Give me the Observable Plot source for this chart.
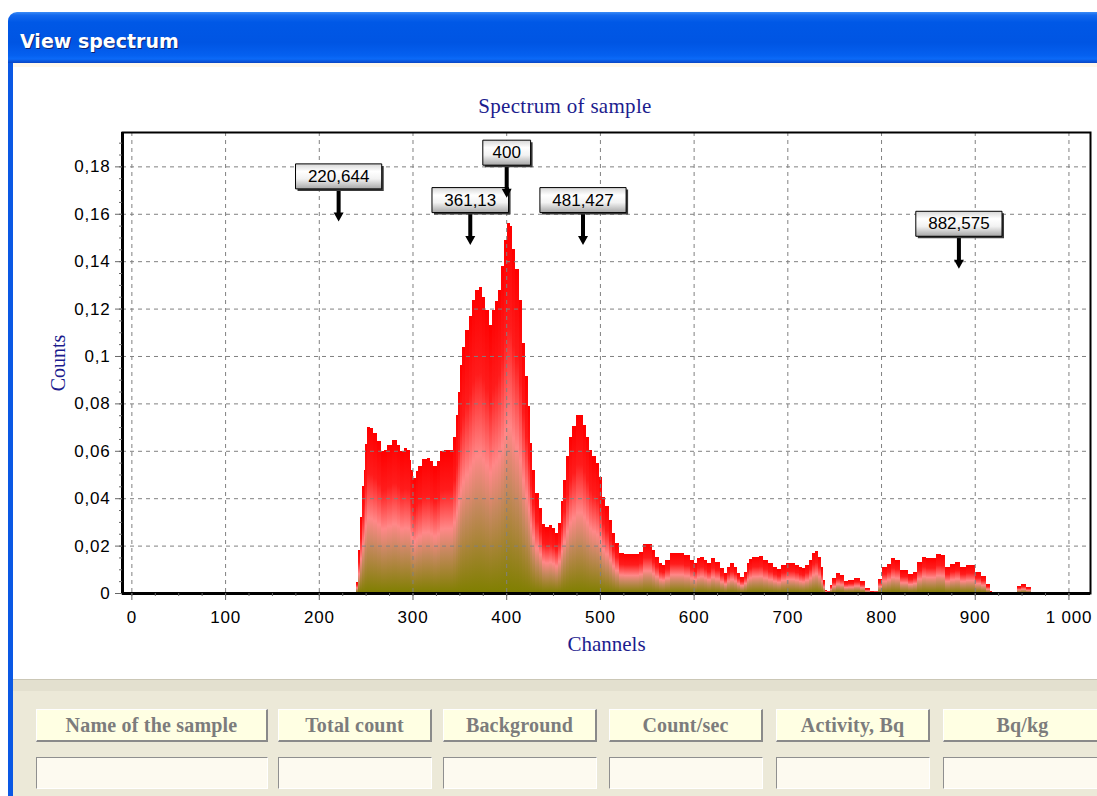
<!DOCTYPE html>
<html>
<head>
<meta charset="utf-8">
<script src="https://cdn.jsdelivr.net/npm/d3@7"></script>
<script src="https://cdn.jsdelivr.net/npm/@observablehq/plot@0.6"></script>
<style>
html, body { margin: 0; padding: 0; background: #fff; }
#win { position: relative; width: 1097px; height: 796px; overflow: hidden; background: #fff; }
#titlebar { position: absolute; left: 8px; top: 12px; width: 1100px; height: 51px; border-top-left-radius: 9px;
  background: linear-gradient(to bottom, #3c8cf6 0%, #1469ee 6%, #0058e6 20%, #0055e3 60%, #0560f0 85%, #0b6af8 92%, #0a45c4 100%); }
#titletext { position: absolute; left: 12px; top: 18px; color: #fff; font: bold 19px "DejaVu Sans", sans-serif; text-shadow: 1px 1px 0 #0b2272; }
#leftborder { position: absolute; left: 8px; top: 63px; width: 5px; height: 733px; background: #0a58e4; }
#cream { position: absolute; left: 13px; top: 63px; width: 1084px; height: 4px; background: #fff8ec; }
#charttitle { position: absolute; left: 0; width: 1130px; top: 94px; text-align: center; font: 21px "Liberation Serif", "Times New Roman", serif; color: #1c1c8e; letter-spacing: 0.3px; }
#chart { position: absolute; left: 0; top: 63px; }
#sep { position: absolute; left: 13px; top: 679px; width: 1084px; height: 11px; background: #e3e0cf; border-top: 1px solid #cbc7b6; border-bottom: 1px solid #d2cebd; }
#panel { position: absolute; left: 13px; top: 691px; width: 1084px; height: 105px; background: #ece9d8; }
.btn { position: absolute; top: 709px; height: 33px; box-sizing: border-box; background: #ffffe3;
  border-top: 1px solid #fff; border-left: 1px solid #fff; border-right: 2px solid #8a8a8a; border-bottom: 2px solid #8a8a8a;
  font: bold 20px "Liberation Serif", "Times New Roman", serif; color: #7c7c7c; text-align: center; line-height: 30px; white-space: nowrap; letter-spacing: 0.2px; }
.inp { position: absolute; top: 757px; height: 32px; box-sizing: border-box; background: #fdfaf0;
  border-top: 1px solid #8f8f8f; border-left: 1px solid #8f8f8f; border-right: 1px solid #fff; border-bottom: 1px solid #fff; }
#chart g[aria-label="ylabel"] text { letter-spacing: 2px; }
#chart g[aria-label="xlabel"] text { letter-spacing: 0.5px; }
#chart g[aria-label="y-axis tick label"] text, #chart g[aria-label="x-axis tick label"] text { letter-spacing: 0.8px; }
#chart g[aria-label="peak label"] text { letter-spacing: 0.5px; }
</style>
</head>
<body>
<svg width="0" height="0" style="position:absolute">
  <defs>
    <linearGradient id="specGrad" x1="0" y1="0" x2="0" y2="1">
      <stop offset="0" stop-color="#ff0000"/>
      <stop offset="0.28" stop-color="#ff1c1c"/>
      <stop offset="0.55" stop-color="#ff8888"/>
      <stop offset="0.72" stop-color="#c4885c"/>
      <stop offset="1" stop-color="#7f7f00"/>
    </linearGradient>
    <linearGradient id="boxGrad" x1="0" y1="0" x2="0" y2="1">
      <stop offset="0" stop-color="#d6d6d6"/>
      <stop offset="0.3" stop-color="#ffffff"/>
      <stop offset="0.6" stop-color="#f2f2f2"/>
      <stop offset="1" stop-color="#a6a6a6"/>
    </linearGradient>
  </defs>
</svg>
<div id="win">
  <div id="titlebar"><div id="titletext">View spectrum</div></div>
  <div id="leftborder"></div>
  <div id="cream"></div>
  <div id="chart"></div>
  <div id="charttitle"></div>
  <div id="sep"></div>
  <div id="panel"></div>
</div>
<script>
// ---- data ----
const chartTitle = "Spectrum of sample";
const xLabel = "Channels";
const yLabel = "Counts";

// channel positions of the readings taken along the spectrum outline
const channels = [
  241, 242.6, 245, 247, 249, 250.5, 252.6, 256, 260.4, 264, 268, 272, 274.6, 282, 284.6, 289,
  292.4, 296, 297.8, 299.6, 302, 305, 306.6, 313, 317.3, 320, 323.6, 328, 331.6, 335, 342, 345,
  347.5, 350, 352, 354.6, 358, 361.8, 365.3, 369, 372.5, 376, 379.6, 383, 386, 389.5, 393, 395.6,
  399, 402.7, 405, 408, 411.6, 415, 418, 421.6, 424, 426.6, 429.5, 433, 436.5, 440, 443.5, 447,
  450.7, 454.3, 457, 459.6, 462, 465, 468.6, 472, 476.3, 481, 483.5, 486.3, 490, 493.4, 497.7, 500.5,
  504, 507.7, 511.2, 514.8, 518.4, 521.9, 529, 539.7, 543, 548.6, 553.9, 557.4, 561, 564.6, 568, 571.7,
  577, 586, 593, 598.4, 602, 604.4, 609, 612.6, 616, 621.5, 625, 630.4, 634, 637.5, 641, 644.6,
  648, 651.7, 655.3, 657.7, 660.6, 664, 667.8, 671.3, 676.6, 682, 687.3, 690.8, 696, 701.5, 706.8, 710.4,
  714, 717.5, 721, 724.6, 728, 731.8, 734.5, 737, 739.6, 741.4, 744.2, 746.7, 749.6, 753.8, 758.5, 762,
  767.4, 774.5, 780, 786.5, 791, 795, 799, 803.6, 809, 813, 816.4, 824.5, 832, 835.7, 841.6, 845.3,
  851.3, 857, 860.8, 866.6, 870, 876.2, 881.6, 887.4, 893.3, 898.6, 902.9, 910.4, 914, 917.8, 920, 944,
  946.6, 952, 958, 961.6
];
const counts = [
  0.0048, 0.018, 0.032, 0.045, 0.052, 0.063, 0.070, 0.0695, 0.0675, 0.064, 0.060, 0.0605, 0.0625, 0.0644, 0.0625, 0.060,
  0.061, 0.0605, 0.056, 0.052, 0.0485, 0.0513, 0.0534, 0.0565, 0.057, 0.0555, 0.0534, 0.0555, 0.060, 0.0605, 0.0605, 0.066,
  0.075, 0.085, 0.096, 0.104, 0.111, 0.1168, 0.1238, 0.128, 0.129, 0.125, 0.1196, 0.113, 0.1196, 0.123, 0.128, 0.138,
  0.149, 0.156, 0.1548, 0.145, 0.1365, 0.1238, 0.1055, 0.0914, 0.0787, 0.0633, 0.052, 0.042, 0.036, 0.029, 0.028, 0.0287,
  0.0273, 0.0252, 0.0294, 0.039, 0.0477, 0.0576, 0.066, 0.0703, 0.0752, 0.0752, 0.071, 0.066, 0.0604, 0.0576, 0.0548, 0.049,
  0.0407, 0.0365, 0.0308, 0.0252, 0.021, 0.0168, 0.0165, 0.0165, 0.0175, 0.0207, 0.0207, 0.018, 0.0153, 0.0125, 0.012, 0.014,
  0.017, 0.017, 0.016, 0.014, 0.0125, 0.0147, 0.0153, 0.014, 0.0125, 0.0147, 0.0132, 0.0104, 0.0083, 0.0111, 0.0125, 0.0111,
  0.0086, 0.0069, 0.009, 0.0125, 0.0142, 0.0153, 0.0153, 0.0156, 0.014, 0.0125, 0.011, 0.010, 0.0118, 0.0128, 0.0128, 0.012,
  0.0109, 0.0104, 0.0118, 0.014, 0.0168, 0.0179, 0.0153, 0.011, 0.0055, 0.0013, 0.001, 0.0034, 0.0062, 0.0083, 0.0076, 0.0052,
  0.0055, 0.0065, 0.005, 0.002, 0.0008, 0.001, 0.006, 0.011, 0.0124, 0.0146, 0.0139, 0.0095, 0.008, 0.0088, 0.0131, 0.0153,
  0.0146, 0.0146, 0.0163, 0.016, 0.011, 0.0124, 0.0131, 0.011, 0.0117, 0.0117, 0.0088, 0.0073, 0.0036, 0.0007, 0, 0,
  0.0029, 0.0036, 0.0025, 0
];

const peakChannels = [220.644, 361.13, 400, 481.427, 882.575];
const peakLabels = ["220,644", "361,13", "400", "481,427", "882,575"];
const peakArrowTips = [0.157, 0.147, 0.167, 0.147, 0.137];

const xTicks = [0, 100, 200, 300, 400, 500, 600, 700, 800, 900, 1000];
const yTicks = [0, 0.02, 0.04, 0.06, 0.08, 0.1, 0.12, 0.14, 0.16, 0.18];
const xDomain = [-10, 1023];
const yDomain = [0, 0.1945];

const tableHeaders = ["Name of the sample", "Total count", "Background", "Count/sec", "Activity, Bq", "Bq/kg"];

// ---- build ----
const spectrum = channels.map((c, i) => ({
  channel: c,
  count: counts[i],
  left: i > 0 ? (channels[i - 1] + c) / 2 : c - 1,
  right: i < channels.length - 1 ? (c + channels[i + 1]) / 2 : c + 1
}));
const peaks = peakChannels.map((c, i) => ({channel: c, label: peakLabels[i], tip: peakArrowTips[i]}));
const xMinor = d3.range(0, 1001, 25);
const yMinor = d3.range(0, 0.1945, 0.005);

const locale = d3.formatLocale({decimal: ",", thousands: "\u00a0", grouping: [3], currency: ["", ""]});
const fmtY = locale.format("~g");
const fmtX = locale.format(",d");

const arrowSymbol = {
  draw(ctx) {
    ctx.moveTo(0, 0);
    ctx.lineTo(-5, -9);
    ctx.lineTo(-2, -9);
    ctx.lineTo(-2, -33);
    ctx.lineTo(2, -33);
    ctx.lineTo(2, -9);
    ctx.lineTo(5, -9);
    ctx.closePath();
  }
};
function boxSymbol(w) {
  return { draw(ctx) { ctx.rect(-w / 2, -12.5, w, 25); } };
}

const annotationMarks = [];
for (const p of peaks) {
  const w = p.label.length * 9.6 + 19;
  annotationMarks.push(
    Plot.dot([p], {x: "channel", y: "tip", symbol: arrowSymbol, fill: "#000", stroke: "none"}),
    Plot.dot([p], {x: "channel", y: "tip", symbol: boxSymbol(w), dx: 2, dy: -43, fill: "#3a3a3a", stroke: "none"}),
    Plot.dot([p], {x: "channel", y: "tip", symbol: boxSymbol(w), dy: -45, fill: "url(#boxGrad)", stroke: "#000", strokeWidth: 1}),
    Plot.text([p], {x: "channel", y: "tip", text: "label", dy: -45, fontSize: 17, fill: "#000", ariaLabel: "peak label",
      fontFamily: "Liberation Sans, Arial, sans-serif"})
  );
}

const chart = Plot.plot({
  width: 1097,
  height: 617,
  marginLeft: 122,
  marginRight: 7,
  marginTop: 69,
  marginBottom: 87,
  style: {background: "transparent", fontFamily: "Liberation Sans, Arial, sans-serif", color: "#000"},
  x: {domain: xDomain, axis: null, label: null},
  y: {domain: yDomain, axis: null, label: null},
  marks: [
    Plot.rectY(spectrum, {x1: "left", x2: "right", y: "count", fill: "url(#specGrad)", shapeRendering: "crispEdges"}),
    Plot.gridX(xTicks, {stroke: "#808080", strokeOpacity: 1, strokeDasharray: "4,4"}),
    Plot.gridY(yTicks.slice(1), {stroke: "#808080", strokeOpacity: 1, strokeDasharray: "4,4"}),
    Plot.frame({stroke: "#000", strokeWidth: 2}),
    Plot.ruleY([0], {stroke: "#000", strokeWidth: 3}),
    Plot.ruleX([xDomain[0]], {stroke: "#000", strokeWidth: 3}),
    Plot.axisY(yMinor, {tickSize: 3, tickFormat: () => "", label: null, stroke: "#666"}),
    Plot.axisY(yTicks, {tickSize: 7, tickPadding: 5, tickFormat: fmtY, fontSize: 17, label: null, stroke: "#666"}),
    Plot.axisX(xMinor, {tickSize: 3, tickFormat: () => "", label: null, stroke: "#666"}),
    Plot.axisX(xTicks, {tickSize: 7, tickPadding: 10, tickFormat: fmtX, fontSize: 17, label: null, stroke: "#666"}),
    Plot.text([xLabel], {text: d => d, frameAnchor: "bottom", dy: 57, fontSize: 21, fill: "#1c1c8e", ariaLabel: "xlabel",
      fontFamily: "Liberation Serif, Times New Roman, serif"}),
    Plot.text([yLabel], {text: d => d, frameAnchor: "left", textAnchor: "middle", dx: -64, rotate: -90, fontSize: 20, fill: "#1c1c8e", ariaLabel: "ylabel",
      fontFamily: "Liberation Serif, Times New Roman, serif"}),
    ...annotationMarks
  ]
});
document.getElementById("chart").appendChild(chart);
document.getElementById("charttitle").textContent = chartTitle;

// bottom table (window chrome)
const btnLefts = [36, 278, 443, 609, 776, 943];
const btnWidths = [232, 154, 154, 154, 154, 160];
const win = document.getElementById("win");
tableHeaders.forEach((h, i) => {
  const b = document.createElement("div");
  b.className = "btn";
  b.style.left = btnLefts[i] + "px";
  b.style.width = btnWidths[i] + "px";
  b.textContent = h;
  win.appendChild(b);
  const inp = document.createElement("div");
  inp.className = "inp";
  inp.style.left = btnLefts[i] + "px";
  inp.style.width = btnWidths[i] + "px";
  win.appendChild(inp);
});
</script>
</body>
</html>
